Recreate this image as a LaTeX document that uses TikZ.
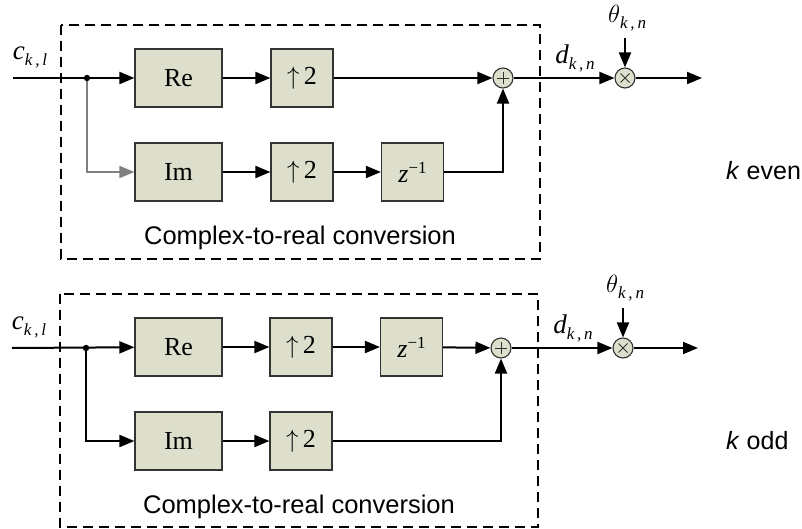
\documentclass[tikz,border=0pt]{standalone}
\usepackage{fontspec}
\setmainfont{Liberation Serif}
\setsansfont{Liberation Sans}
\usetikzlibrary{arrows.meta}
\definecolor{boxfill}{RGB}{221,223,204}
\newcommand{\sublbl}[2]{{\fontsize{27}{27}\selectfont\itshape #1}\raisebox{-6pt}{\fontsize{17}{17}\selectfont\itshape #2}}
\tikzset{
  blk/.style={draw=black!80, line width=1.2pt, fill=boxfill, minimum height=58pt, inner sep=0pt, font=\fontsize{26}{26}\selectfont},
  wideblk/.style={blk, minimum width=87pt},
  narrowblk/.style={blk, minimum width=62pt},
  op/.style={circle, draw=black!80, line width=1.1pt, fill=boxfill, minimum size=20pt, inner sep=0pt},
  plusop/.style={op, path picture={\draw[line width=0.9pt] (path picture bounding box.center) ++(-6pt,0) -- ++(12pt,0) (path picture bounding box.center) ++(0,-6pt) -- ++(0,12pt);}},
  timesop/.style={op, path picture={\draw[line width=0.9pt] (path picture bounding box.center) ++(-4.5pt,-4.5pt) -- ++(9pt,9pt) (path picture bounding box.center) ++(-4.5pt,4.5pt) -- ++(9pt,-9pt);}},
  sig/.style={line width=2pt, -{Triangle[length=15pt,width=12pt]}},
  frame/.style={draw, line width=2pt, dash pattern=on 10pt off 6pt},
  sanslbl/.style={font=\sffamily\fontsize{25}{25}\selectfont, inner sep=0pt},
  convlbl/.style={font=\sffamily\fontsize{25.5}{25.5}\selectfont, inner sep=0pt},
  mathlbl/.style={inner sep=0pt},
}
\begin{document}
\begin{tikzpicture}[x=1pt,y=-1pt]
\useasboundingbox[fill=white] (0,0) rectangle (802,529);

% ===== top diagram (k even) =====
\draw[frame] (61,25) rectangle (540,259);
\node[convlbl] (conv1) at (300,238) {Complex-to-real conversion};

\node[wideblk] (re1) at (178.5,78) {Re};
\node[narrowblk] (upa1) at (302,78) {\(\uparrow\)\,2};
\node[wideblk] (im1) at (178.5,172) {Im};
\node[narrowblk] (upb1) at (302,172) {\(\uparrow\)\,2};
\node[narrowblk] (z1) at (412.5,172) {\textit{z}\raisebox{9pt}{\fontsize{17}{17}\selectfont −1}};
\node[plusop] (s1) at (503,78) {};
\node[timesop] (m1) at (625,78) {};
\coordinate (in1) at (13,78);
\coordinate (tap1) at (87,78);
\coordinate (out1) at (702,78);
\coordinate (th1) at (625,38);

\node[mathlbl] (c1) at (30,57) {\sublbl{c}{k\,,\,l}};
\node[mathlbl] (d1) at (575,58) {\sublbl{d}{k\,,\,n}};
\node[mathlbl] (t1) at (627,18) {\sublbl{\(\theta\)}{k\,,\,n}};

\draw[sig] (in1) -- (re1);
\draw[sig, draw=gray, line width=1.5pt] (tap1) |- (im1.west);
\fill (tap1) circle (3.2pt);
\draw[sig] (re1) -- (upa1);
\draw[sig] (upa1) -- (s1);
\draw[sig] (im1) -- (upb1);
\draw[sig] (upb1) -- (z1);
\draw[sig] (z1) -| (s1);
\draw[sig] (s1) -- (m1);
\draw[sig] (th1) -- (m1);
\draw[sig] (m1) -- (out1);

\node[sanslbl, anchor=west] (keven) at (726,171) {\textit{k} even};

% ===== bottom diagram (k odd) =====
\draw[frame] (60,294) rectangle (538,527);
\node[convlbl] (conv2) at (299,507) {Complex-to-real conversion};

\node[wideblk] (re2) at (178.5,347) {Re};
\node[narrowblk] (upa2) at (301,347) {\(\uparrow\)\,2};
\node[narrowblk] (z2) at (411.5,347) {\textit{z}\raisebox{9pt}{\fontsize{17}{17}\selectfont −1}};
\node[wideblk] (im2) at (178.5,441) {Im};
\node[narrowblk] (upb2) at (301,441) {\(\uparrow\)\,2};
\node[plusop] (s2) at (501,348) {};
\node[timesop] (m2) at (623,348) {};
\coordinate (in2) at (12,348);
\coordinate (tap2) at (86,348);
\coordinate (out2) at (698,348);
\coordinate (th2) at (623,308);

\node[mathlbl] (c2) at (29,327) {\sublbl{c}{k\,,\,l}};
\node[mathlbl] (d2) at (573,328) {\sublbl{d}{k\,,\,n}};
\node[mathlbl] (t2) at (625,288) {\sublbl{\(\theta\)}{k\,,\,n}};

\draw[sig] (in2) -- (re2);
\draw[sig] (tap2) |- (im2.west);
\fill (tap2) circle (3.2pt);
\draw[sig] (re2) -- (upa2);
\draw[sig] (upa2) -- (z2);
\draw[sig] (z2) -- (s2);
\draw[sig] (im2) -- (upb2);
\draw[sig] (upb2) -| (s2);
\draw[sig] (s2) -- (m2);
\draw[sig] (th2) -- (m2);
\draw[sig] (m2) -- (out2);

\node[sanslbl, anchor=west] (kodd) at (726,441) {\textit{k} odd};
\end{tikzpicture}
\end{document}
